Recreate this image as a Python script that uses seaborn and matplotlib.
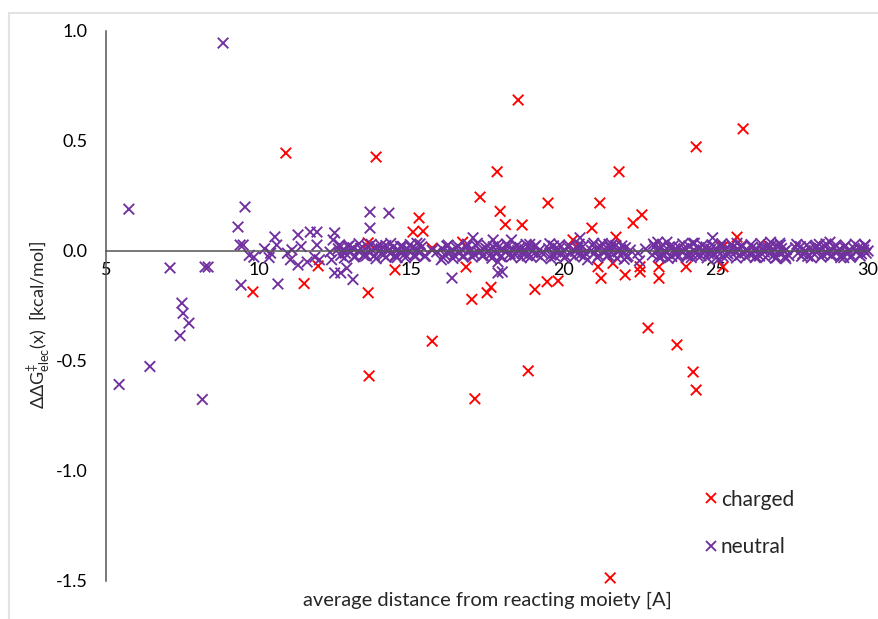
import numpy as np
import pandas as pd
import matplotlib
matplotlib.use("Agg")
import matplotlib.pyplot as plt
from matplotlib.lines import Line2D
import seaborn as sns

# charged residues (red crosses)
charged_x = [10.9, 13.86, 18.52, 17.83, 17.27, 17.93, 18.1, 18.65, 19.5, 15.27,
             15.07, 15.4, 13.6, 16.7, 15.7, 9.82, 11.5, 11.96, 13.6, 14.48,
             15.7, 13.63, 16.81, 17.0, 17.5, 17.63, 19.07, 19.47, 19.83, 18.85,
             17.1, 21.83, 21.2, 20.94, 20.32, 21.73, 22.29, 22.58, 25.9, 24.36,
             25.7, 25.24, 26.72, 21.14, 21.24, 21.63, 22.03, 22.52, 22.52, 23.14,
             23.14, 24.03, 25.24, 22.78, 23.73, 24.26, 24.36, 21.54, 20.45, 21.54]
charged_y = [0.445, 0.427, 0.686, 0.36, 0.245, 0.18, 0.12, 0.118, 0.218, 0.15,
             0.086, 0.09, 0.037, 0.04, 0.013, -0.186, -0.148, -0.068, -0.19, -0.086,
             -0.41, -0.568, -0.073, -0.22, -0.19, -0.165, -0.175, -0.14, -0.136, -0.545,
             -0.672, 0.36, 0.218, 0.104, 0.05, 0.063, 0.127, 0.164, 0.555, 0.473,
             0.063, 0.02, 0.027, -0.072, -0.124, -0.056, -0.109, -0.072, -0.095, -0.072,
             -0.124, -0.072, -0.072, -0.35, -0.427, -0.55, -0.632, -1.486, 0.014, 0.018]

# neutral residues away from the dense band
neutral_x = [8.84, 5.75, 9.56, 9.33, 9.4, 9.5, 7.1, 8.25, 8.35, 9.43,
             10.64, 7.49, 7.53, 7.72, 7.43, 6.44, 5.43, 8.16, 9.7, 9.85,
             10.54, 10.6, 10.4, 10.35, 11.3, 11.7, 11.92, 12.5, 12.45, 12.35,
             11.92, 11.85, 10.95, 11.05, 11.1, 11.3, 11.6, 12.0, 12.5, 12.9,
             13.1, 13.66, 13.66, 14.28, 13.45, 14.05, 14.55, 12.4, 12.7, 16.35,
             17.04, 17.7, 17.86, 17.86, 18.3, 18.0, 20.55, 20.8, 21.5, 22.5,
             23.1, 24.9, 25.08, 23.2, 24.3, 27.0, 28.75, 26.8, 27.1, 15.2,
             16.0, 18.9, 19.6, 21.0, 22.0, 23.4, 24.2, 25.7, 26.3, 27.3,
             28.4, 29.2, 29.9, 10.2, 11.4]
neutral_y = [0.945, 0.19, 0.2, 0.109, 0.027, 0.027, -0.077, -0.073, -0.073, -0.155,
             -0.15, -0.237, -0.283, -0.328, -0.385, -0.525, -0.607, -0.675, -0.02, -0.028,
             0.064, 0.027, -0.01, -0.03, 0.073, 0.086, 0.086, 0.082, 0.05, -0.005,
             0.027, -0.028, -0.01, -0.04, 0.005, -0.064, -0.05, -0.04, -0.1, -0.078,
             -0.13, 0.177, 0.104, 0.172, -0.02, -0.01, -0.03, -0.04, -0.1, -0.123,
             0.06, 0.05, -0.1, -0.05, 0.05, -0.095, 0.06, -0.04, 0.03, -0.045,
             0.04, 0.06, -0.04, -0.03, 0.035, -0.03, 0.04, 0.04, 0.035, 0.035,
             -0.04, 0.03, -0.035, 0.035, -0.038, 0.04, -0.03, 0.035, -0.03, -0.035,
             0.03, -0.03, 0.025, 0.01, 0.02]

# neutral residues in the dense band around zero
band_x = [12.62, 12.70, 12.78, 12.85, 12.93, 13.01, 13.10, 13.18, 13.27, 13.35,
          13.50, 13.58, 13.65, 13.73, 13.80, 13.88, 13.95, 14.03, 14.10, 14.18,
          14.26, 14.33, 14.41, 14.49, 14.57, 14.65, 14.73, 14.80, 14.88, 14.96,
          15.04, 15.12, 15.20, 15.28, 15.36, 15.45, 15.70, 15.85, 16.02, 16.10,
          16.18, 16.26, 16.34, 16.42, 16.50, 16.58, 16.66, 16.74, 16.82, 16.90,
          16.98, 17.06, 17.14, 17.22, 17.30, 17.38, 17.46, 17.54, 17.62, 17.70,
          17.78, 17.86, 17.94, 18.02, 18.10, 18.18, 18.26, 18.34, 18.42, 18.50,
          18.58, 18.66, 18.74, 18.82, 18.90, 18.98, 19.06, 19.14, 19.22, 19.30,
          19.52, 19.60, 19.68, 19.76, 19.84, 19.92, 20.00, 20.08, 20.16, 20.24,
          20.32, 20.40, 20.48, 20.56, 20.64, 20.72, 20.92, 21.00, 21.08, 21.16,
          21.24, 21.32, 21.40, 21.48, 21.56, 21.64, 21.72, 21.80, 21.88, 21.96,
          22.04, 22.12, 22.20, 22.45, 22.70, 22.92, 23.00, 23.08, 23.16, 23.24,
          23.32, 23.40, 23.48, 23.56, 23.64, 23.72, 23.80, 23.88, 23.96, 24.04,
          24.12, 24.20, 24.28, 24.36, 24.44, 24.52, 24.60, 24.68, 24.76, 24.84,
          24.92, 25.00, 25.08, 25.16, 25.24, 25.32, 25.40, 25.48, 25.56, 25.64,
          25.72, 25.80, 25.88, 25.96, 26.04, 26.12, 26.20, 26.28, 26.36, 26.44,
          26.52, 26.60, 26.68, 26.76, 26.84, 26.92, 27.00, 27.08, 27.16, 27.24,
          27.32, 27.40, 27.62, 27.70, 27.78, 27.86, 27.94, 28.02, 28.10, 28.18,
          28.26, 28.34, 28.42, 28.50, 28.58, 28.66, 28.74, 28.82, 28.90, 28.98,
          29.06, 29.14, 29.22, 29.30, 29.38, 29.46, 29.54, 29.62, 29.70, 29.78,
          29.86, 29.94, 30.00]
band_y = [0.01, -0.02, 0.005, -0.01, 0.02, -0.005, 0.015, -0.025, 0.0, 0.012,
          -0.015, 0.02, -0.008, 0.004, -0.022, 0.018, -0.003, 0.01, -0.017, 0.025,
          0.002, -0.012, 0.016, -0.02, 0.007, -0.006, 0.021, -0.014, 0.009, -0.001,
          0.013, -0.018, 0.006, -0.009, 0.019, -0.024, 0.003, -0.004, 0.011, -0.016,
          0.022, -0.007, 0.001, -0.019, 0.014, -0.011, 0.008, -0.023, 0.017, -0.002,
          0.005, -0.013, 0.024, -0.006, 0.0, -0.021, 0.012, 0.003, -0.015, 0.019,
          -0.009, 0.015, -0.026, 0.007, -0.004, 0.021, -0.012, 0.01, -0.018, 0.002,
          0.016, -0.01, 0.006, -0.022, 0.013, -0.003, 0.02, -0.016, 0.004, -0.008,
          0.011, -0.019, 0.023, -0.005, 0.008, -0.014, 0.001, -0.024, 0.017, -0.011,
          0.006, -0.002, 0.014, -0.017, 0.02, -0.009, 0.003, -0.013, 0.01, -0.021,
          0.018, -0.006, 0.0, -0.02, 0.012, -0.015, 0.025, -0.004, 0.007, -0.012,
          0.015, -0.023, 0.004, -0.01, 0.009, -0.018, 0.021, -0.001, 0.013, -0.016,
          0.002, -0.008, 0.019, -0.025, 0.006, -0.012, 0.016, -0.003, 0.011, -0.02,
          0.023, -0.014, 0.005, -0.007, 0.014, -0.022, 0.001, 0.018, -0.011, 0.008,
          -0.017, 0.012, -0.004, 0.02, -0.026, 0.009, -0.013, 0.003, 0.016, -0.006,
          0.01, -0.019, 0.022, -0.009, 0.004, -0.015, 0.017, -0.002, 0.007, -0.023,
          0.013, -0.005, 0.019, -0.012, 0.001, -0.018, 0.024, -0.008, 0.011, -0.003,
          0.006, -0.021, 0.015, -0.01, 0.02, -0.014, 0.002, -0.024, 0.012, -0.007,
          0.017, -0.001, 0.009, -0.016, 0.021, -0.011, 0.004, -0.02, 0.014, -0.006,
          0.008, -0.017, 0.018, -0.009, 0.003, -0.022, 0.012, -0.004, 0.016, -0.013,
          0.005, -0.01, 0.0]

# outer edge of the band
band2_x = [12.66, 12.82, 12.98, 13.14, 13.30, 13.54, 13.70, 13.86, 14.02, 14.18,
           14.34, 14.50, 14.66, 14.82, 14.98, 15.14, 15.30, 15.48, 16.06, 16.22,
           16.38, 16.54, 16.70, 16.86, 17.02, 17.18, 17.34, 17.50, 17.66, 17.82,
           17.98, 18.14, 18.30, 18.46, 18.62, 18.78, 18.94, 19.10, 19.26, 19.56,
           19.72, 19.88, 20.04, 20.20, 20.36, 20.52, 20.68, 20.96, 21.12, 21.28,
           21.44, 21.60, 21.76, 21.92, 22.08, 22.96, 23.12, 23.28, 23.44, 23.60,
           23.76, 23.92, 24.08, 24.24, 24.40, 24.56, 24.72, 24.88, 25.04, 25.20,
           25.36, 25.52, 25.68, 25.84, 26.00, 26.16, 26.32, 26.48, 26.64, 26.80,
           26.96, 27.12, 27.28, 27.66, 27.82, 27.98, 28.14, 28.30, 28.46, 28.62,
           28.78, 28.94, 29.10, 29.26, 29.42, 29.58, 29.74, 29.90]
band2_y = [0.028, -0.032, 0.024, -0.027, 0.033, -0.022, 0.03, -0.035, 0.026, -0.029,
           0.034, -0.024, 0.021, -0.031, 0.029, -0.026, 0.032, -0.023, -0.03, 0.027,
           -0.034, 0.023, -0.025, 0.031, -0.028, 0.035, -0.022, 0.026, -0.033, 0.029,
           -0.024, 0.032, -0.027, 0.022, -0.031, 0.03, -0.026, 0.025, -0.029, 0.033,
           -0.023, 0.028, -0.032, 0.024, -0.027, 0.031, -0.025, 0.026, -0.03, 0.034,
           -0.022, 0.029, -0.033, 0.023, -0.028, 0.031, -0.026, 0.027, -0.034, 0.022,
           -0.029, 0.032, -0.024, 0.035, -0.021, 0.025, -0.031, 0.028, -0.027, 0.033,
           -0.023, 0.03, -0.032, 0.024, -0.028, 0.029, -0.025, 0.034, -0.03, 0.021,
           -0.033, 0.027, -0.026, 0.03, -0.024, 0.026, -0.031, 0.023, -0.028, 0.032,
           -0.022, 0.027, -0.03, 0.025, -0.029, 0.031, -0.023, 0.028]

x_ticks = [5, 10, 15, 20, 25, 30]
y_ticks = [1.0, 0.5, 0.0, -0.5, -1.0, -1.5]

# charged first so the neutral band is drawn over it
n_neutral = len(neutral_x) + len(band_x) + len(band2_x)
df = pd.DataFrame({
    "x": charged_x + neutral_x + band_x + band2_x,
    "y": charged_y + neutral_y + band_y + band2_y,
    "type": ["charged"] * len(charged_x) + ["neutral"] * n_neutral,
})

sns.set_style("white")
plt.rcParams["font.family"] = ["Lato", "DejaVu Sans"]
plt.rcParams["mathtext.fontset"] = "custom"
plt.rcParams["mathtext.rm"] = "Lato"
plt.rcParams["mathtext.it"] = "Lato"

fig = plt.figure(figsize=(8.79, 6.19), dpi=100)
ax = fig.add_axes([0.1206, 0.0614, 0.867, 0.8886])

sns.scatterplot(data=df, x="x", y="y", hue="type", hue_order=["charged", "neutral"],
                palette={"charged": "#FF0000", "neutral": "#7030A0"},
                marker="x", s=58, linewidth=1.35, ax=ax, clip_on=False)

ax.set_xlim(5, 30)
ax.set_ylim(-1.5, 1.0)
ax.set_xticks(x_ticks)
ax.set_xticklabels([str(t) for t in x_ticks])
ax.set_yticks(y_ticks)
ax.set_yticklabels(["%.1f" % t for t in y_ticks])

for s in ["top", "right"]:
    ax.spines[s].set_visible(False)
ax.spines["bottom"].set_position(("data", 0))
for s in ["left", "bottom"]:
    ax.spines[s].set_color("#555555")
    ax.spines[s].set_linewidth(1.1)
ax.tick_params(axis="both", length=0, labelsize=13, colors="black")
ax.tick_params(axis="x", pad=8)
ax.tick_params(axis="y", pad=13)

ax.set_ylabel(r"ΔΔG$^{‡}_{\mathrm{elec}}$(x)  [kcal/mol]", fontsize=13)
ax.yaxis.set_label_coords(-0.07, 0.465)
ax.set_xlabel("average distance from reacting moiety [A]", fontsize=14.5)
ax.xaxis.set_label_coords(0.5, -0.02)

handles, labels = ax.get_legend_handles_labels()
ax.legend(handles, labels, loc="upper left", bbox_to_anchor=(0.755, 0.2),
          frameon=False, fontsize=15, labelspacing=1.3, handletextpad=0.0,
          handlelength=1.0, markerscale=1.0)

# light grey frame around the figure
fig.add_artist(Line2D([9 / 879, 1], [1 - 13 / 619] * 2, color="#e3e3e3", lw=1.5))
fig.add_artist(Line2D([9 / 879] * 2, [0, 1 - 13 / 619], color="#e3e3e3", lw=1.5))

fig.savefig("out.png", dpi=100)
